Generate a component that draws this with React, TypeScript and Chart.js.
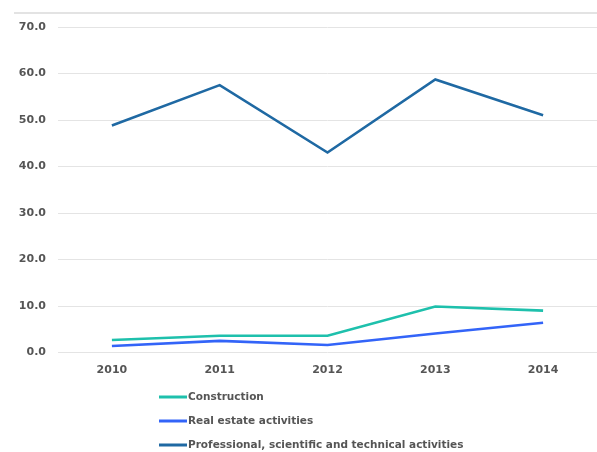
import React, { useEffect, useRef } from "react";
import { Chart, registerables } from "chart.js";

Chart.register(...registerables);

const categories = ["2010", "2011", "2012", "2013", "2014"];
const construction = [2.7, 3.6, 3.6, 9.9, 9.0];
const realEstate = [1.4, 2.5, 1.6, 4.1, 6.4];
const professional = [48.8, 57.5, 43.0, 58.7, 51.0];
const seriesNames = [
  "Construction",
  "Real estate activities",
  "Professional, scientific and technical activities",
];
const seriesColors = ["#1ec0ac", "#3364f8", "#1f69a3"];

const FONT = "'DejaVu Sans', Verdana, sans-serif";

const decorPlugin = {
  id: "decor",
  beforeDraw(chart: any) {
    const ctx = chart.ctx;
    ctx.save();
    ctx.strokeStyle = "#e3e3e3";
    ctx.lineWidth = 2;
    ctx.beginPath();
    ctx.moveTo(14, 13);
    ctx.lineTo(chart.width, 13);
    ctx.stroke();
    ctx.restore();
  },
  afterDraw(chart: any) {
    const ctx = chart.ctx;
    ctx.save();
    chart.data.datasets.forEach((ds: any, i: number) => {
      const y = 397 + 24 * i;
      ctx.strokeStyle = ds.borderColor;
      ctx.lineWidth = 3;
      ctx.beginPath();
      ctx.moveTo(159, y);
      ctx.lineTo(187, y);
      ctx.stroke();
      ctx.fillStyle = "#555555";
      ctx.font = `bold 10.5px ${FONT}`;
      ctx.textBaseline = "middle";
      ctx.textAlign = "left";
      ctx.fillText(ds.label, 188, y);
    });
    ctx.restore();
  },
};

export default function App() {
  const ref = useRef<HTMLCanvasElement>(null);
  useEffect(() => {
    if (!ref.current) return;
    const data = [construction, realEstate, professional];
    const chart = new Chart(ref.current, {
      type: "line",
      data: {
        labels: categories,
        datasets: data.map((d, i) => ({
          label: seriesNames[i],
          data: d,
          borderColor: seriesColors[i],
          backgroundColor: seriesColors[i],
          borderWidth: 2.6,
          pointRadius: 0,
          tension: 0,
          fill: false,
        })),
      },
      options: {
        animation: false,
        responsive: false,
        layout: { padding: { left: 0, right: 0, top: 27, bottom: 70 } },
        plugins: {
          legend: { display: false },
          tooltip: { enabled: false },
        },
        scales: {
          x: {
            offset: true,
            grid: { display: false, drawTicks: false },
            border: { display: false },
            ticks: {
              padding: 11,
              color: "#555555",
              font: { family: FONT, size: 11, weight: "bold" },
            },
            afterFit(scale: any) {
              scale.height = 29.5;
            },
          },
          y: {
            min: 0,
            max: 70,
            grid: { color: "#e4e4e4", lineWidth: 1, drawTicks: false },
            border: { display: false },
            ticks: {
              stepSize: 10,
              padding: 12,
              color: "#555555",
              font: { family: FONT, size: 11, weight: "bold" },
              callback: (v: any) => Number(v).toFixed(1),
            },
            afterFit(scale: any) {
              scale.width = 58;
            },
          },
        },
      },
      plugins: [decorPlugin],
    });
    return () => chart.destroy();
  }, []);
  return (
    <div style={{ position: "fixed", left: 0, top: 0, width: 597, height: 452, background: "#fff" }}>
      <canvas ref={ref} width={597} height={452} style={{ display: "block" }} />
    </div>
  );
}
